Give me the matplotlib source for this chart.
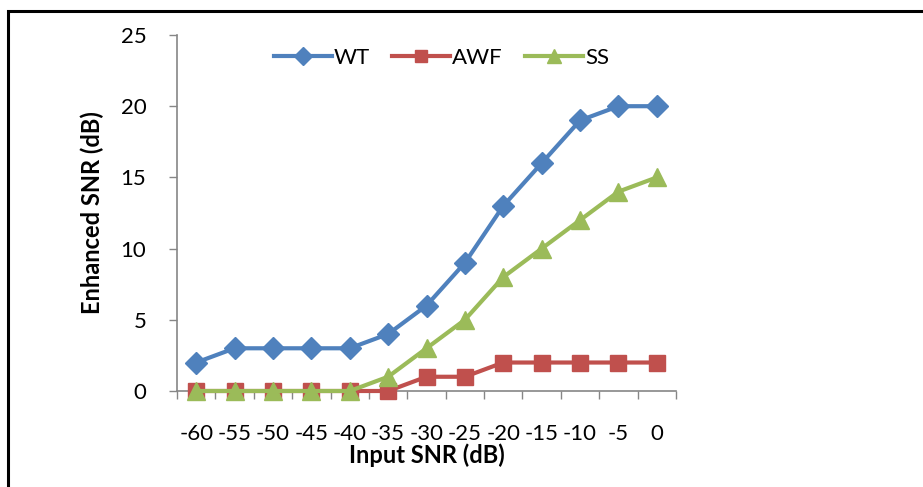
import matplotlib
matplotlib.use("Agg")
import matplotlib.pyplot as plt
from matplotlib.patches import Rectangle

categories = ["-60", "-55", "-50", "-45", "-40", "-35", "-30", "-25", "-20", "-15", "-10", "-5", "0"]
wt = [2, 3, 3, 3, 3, 4, 6, 9, 13, 16, 19, 20, 20]
awf = [0, 0, 0, 0, 0, 0, 1, 1, 2, 2, 2, 2, 2]
ss = [0, 0, 0, 0, 0, 1, 3, 5, 8, 10, 12, 14, 15]
yticks = [0, 5, 10, 15, 20, 25]

plt.rcParams['font.family'] = ['Lato', 'DejaVu Sans']

W, H = 923, 487
fig = plt.figure(figsize=(W / 100, H / 100), dpi=100)
ax = fig.add_axes([177 / W, 1 - 391 / H, (676 - 177) / W, (391 - 35) / H])

x = list(range(len(categories)))
ax.plot(x, wt, color='#4F81BD', lw=3, marker='D', ms=11, label='WT', clip_on=False, zorder=3)
ax.plot(x, awf, color='#C0504D', lw=3, marker='s', ms=11, label='AWF', clip_on=False, zorder=3)
ax.plot(x, ss, color='#9BBB59', lw=3, marker='^', ms=13, label='SS', clip_on=False, zorder=4)

ax.set_xlim(-0.5, len(categories) - 0.5)
ax.set_ylim(0, 25)
ax.set_yticks(yticks)
ax.set_xticks(x)
ax.set_xticklabels(categories)
ax.set_xticks([i - 0.5 for i in range(len(categories) + 1)], minor=True)
ax.tick_params(axis='x', which='major', length=0, pad=24, labelsize=16)
ax.tick_params(axis='x', which='minor', length=6, color='#868686', width=1)
ax.tick_params(axis='y', length=6, color='#868686', width=1, labelsize=16, pad=16)

for s in ['top', 'right']:
    ax.spines[s].set_visible(False)
for s in ['left', 'bottom']:
    ax.spines[s].set_color('#868686')
    ax.spines[s].set_linewidth(1.2)

ax.set_xlabel('Input SNR (dB)', fontsize=17, fontweight='bold', labelpad=-1)
ax.set_ylabel('Enhanced SNR (dB)', fontsize=17, fontweight='bold', labelpad=12)

ax.legend(loc='upper center', bbox_to_anchor=(0.53, 1.02), ncol=3, frameon=False,
          fontsize=16, handlelength=2.6, handletextpad=0.1, columnspacing=1.0,
          markerscale=0.8)

fig.patches.append(Rectangle((8 / W, -0.1), 1.2, 1 - 11 / H + 0.1, transform=fig.transFigure,
                             fill=False, edgecolor='black', lw=2.2))

fig.savefig('out.png', dpi=100)
